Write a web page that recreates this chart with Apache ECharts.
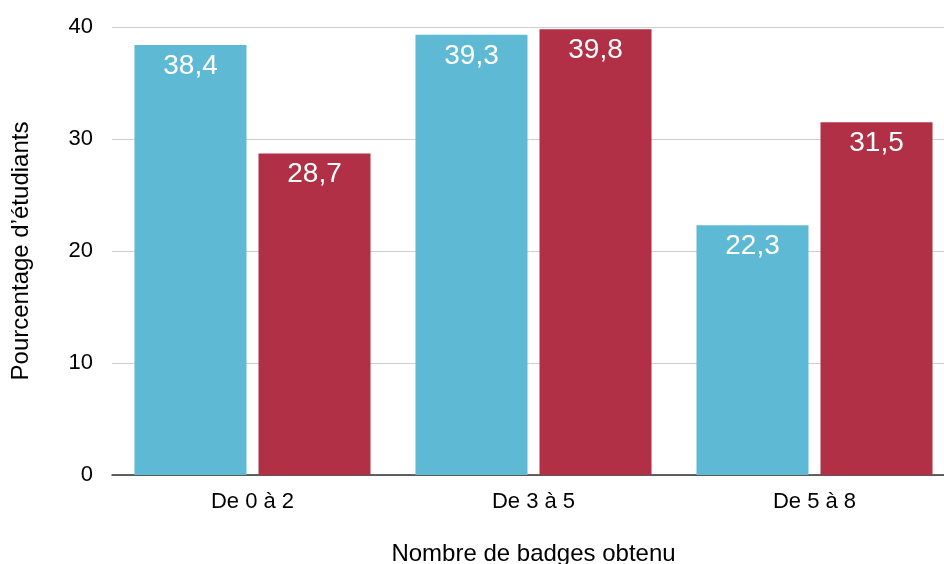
<!DOCTYPE html>
<html>
<head>
<meta charset="utf-8">
<script src="https://cdn.jsdelivr.net/npm/echarts@6/dist/echarts.min.js"></script>
<style>
  html, body { margin: 0; padding: 0; background: #fff; }
  #chart { width: 944px; height: 564px; }
</style>
</head>
<body>
<div id="chart"></div>
<script>
// données
var categories = ['De 0 à 2', 'De 3 à 5', 'De 5 à 8'];
var serieBleue = [38.4, 39.3, 22.3];
var serieRouge = [28.7, 39.8, 31.5];
var yTicks = [0, 10, 20, 30, 40];

var myChart = echarts.init(document.getElementById('chart'));

function virgule (p) {
  return String(p.value).replace('.', ',');
}

var labelStyle = {
  show: true,
  position: 'insideTop',
  distance: 7,
  color: '#fff',
  fontSize: 28,
  fontFamily: 'Liberation Sans',
  formatter: virgule
};

var option = {
  animation: false,
  textStyle: { fontFamily: 'Liberation Sans' },
  grid: {
    left: 112,
    width: 843,   // le graphique d'origine est coupé à droite
    top: 27,
    bottom: 89,
    outerBoundsMode: 'none'
  },
  xAxis: {
    type: 'category',
    data: categories,
    name: 'Nombre de badges obtenu',
    nameLocation: 'middle',
    nameGap: 67,
    nameTextStyle: { color: '#000', fontSize: 24, fontFamily: 'Liberation Sans' },
    axisLine: { lineStyle: { color: '#333', width: 1.5 } },
    axisTick: { show: false },
    axisLabel: { color: '#000', fontSize: 22, margin: 16, fontFamily: 'Liberation Sans' }
  },
  yAxis: {
    type: 'value',
    min: yTicks[0],
    max: yTicks[yTicks.length - 1],
    interval: 10,
    name: 'Pourcentage d’étudiants',
    nameLocation: 'middle',
    nameGap: 79,
    nameTextStyle: { color: '#000', fontSize: 24, fontFamily: 'Liberation Sans' },
    axisLine: { show: false },
    axisTick: { show: false },
    axisLabel: { color: '#000', fontSize: 22, margin: 19, fontFamily: 'Liberation Sans' },
    splitLine: { lineStyle: { color: '#cfcfcf', width: 1 } }
  },
  series: [
    {
      name: 'Série 1',
      type: 'bar',
      data: serieBleue,
      barGap: '10.7%',
      barCategoryGap: '16%',
      itemStyle: { color: '#5ebad4' },
      label: labelStyle
    },
    {
      name: 'Série 2',
      type: 'bar',
      data: serieRouge,
      barGap: '10.7%',
      barCategoryGap: '16%',
      itemStyle: { color: '#b23045' },
      label: labelStyle
    }
  ]
};

myChart.setOption(option);
window.addEventListener('resize', function () {
  myChart.resize();
});
</script>
</body>
</html>
